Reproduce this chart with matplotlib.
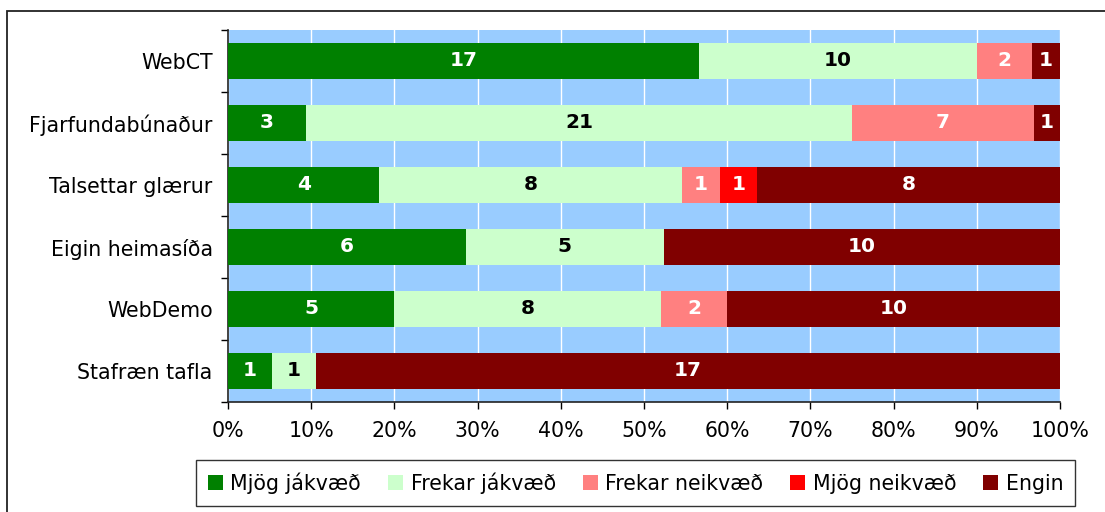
import matplotlib
matplotlib.use("Agg")
import matplotlib.pyplot as plt
from matplotlib.patches import Patch, Rectangle
import numpy as np

categories = ["WebCT", "Fjarfundabúnaður", "Talsettar glærur", "Eigin heimasíða", "WebDemo", "Stafræn tafla"]
series_names = ["Mjög jákvæð", "Frekar jákvæð", "Frekar neikvæð", "Mjög neikvæð", "Engin"]
mjog_jakvaed = [17, 3, 4, 6, 5, 1]
frekar_jakvaed = [10, 21, 8, 5, 8, 1]
frekar_neikvaed = [2, 7, 1, 0, 2, 0]
mjog_neikvaed = [0, 0, 1, 0, 0, 0]
engin = [1, 1, 8, 10, 10, 17]
colors = ["#008000", "#CCFFCC", "#FF8080", "#FF0000", "#800000"]
label_colors = ["white", "black", "white", "white", "white"]
xtick_labels = ["0%", "10%", "20%", "30%", "40%", "50%", "60%", "70%", "80%", "90%", "100%"]

W, H = 1105, 512
FS = 14.8
fig = plt.figure(figsize=(W / 100, H / 100), dpi=100)
fig.patch.set_facecolor("white")

# outer chart border
fig.patches.append(Rectangle((7 / W, -0.05), 1.2, (H - 11) / H + 0.05,
                             transform=fig.transFigure, fill=False,
                             edgecolor="#222222", linewidth=1.3, zorder=0))

ax = fig.add_axes([228 / W, 1 - 402 / H, 832 / W, 372 / H])
ax.set_facecolor("#99CCFF")

data = np.array([mjog_jakvaed, frekar_jakvaed, frekar_neikvaed, mjog_neikvaed, engin], dtype=float)
totals = data.sum(axis=0)
pct = data / totals * 100
y = np.arange(len(categories))
left = np.zeros(len(categories))
bar_h = 0.58
for i, name in enumerate(series_names):
    ax.barh(y, pct[i], left=left, height=bar_h, color=colors[i], edgecolor="none", zorder=3, label=name)
    for j in range(len(categories)):
        if data[i, j] > 0:
            ax.text(left[j] + pct[i, j] / 2, y[j], f"{int(data[i, j])}", ha="center", va="center",
                    color=label_colors[i], fontsize=14.5, fontweight="bold", zorder=4)
    left += pct[i]

ax.set_xlim(0, 100)
ax.set_ylim(len(categories) - 0.5, -0.5)
ax.set_xticks(np.arange(0, 101, 10))
ax.set_xticklabels(xtick_labels, fontsize=FS)
ax.xaxis.grid(True, color="white", linewidth=1.0, zorder=1)
ax.set_axisbelow(True)

ax.set_yticks(np.arange(-0.5, len(categories), 1))
ax.set_yticklabels([])
ax.set_yticks(y, minor=True)
ax.set_yticklabels(categories, minor=True, fontsize=FS)
ax.tick_params(axis="y", which="minor", length=0, pad=11)
ax.tick_params(axis="y", which="major", length=5, direction="out", width=1)
ax.tick_params(axis="x", length=5, direction="out", width=1, pad=9, colors="black")

for s in ["top", "right"]:
    ax.spines[s].set_visible(False)
for s in ["left", "bottom"]:
    ax.spines[s].set_color("#222222")
    ax.spines[s].set_linewidth(1.2)

handles = [Patch(facecolor=c, edgecolor="none") for c in colors]
leg = fig.legend(handles, series_names, loc="center", bbox_to_anchor=(635.5 / W, 1 - 483 / H),
                 ncol=5, fontsize=FS, frameon=True, fancybox=False, edgecolor="black",
                 handlelength=0.75, handleheight=0.75, handletextpad=0.35, columnspacing=1.3,
                 borderpad=0.6, borderaxespad=0)
leg.get_frame().set_linewidth(1.0)

fig.savefig("out.png", dpi=100)
